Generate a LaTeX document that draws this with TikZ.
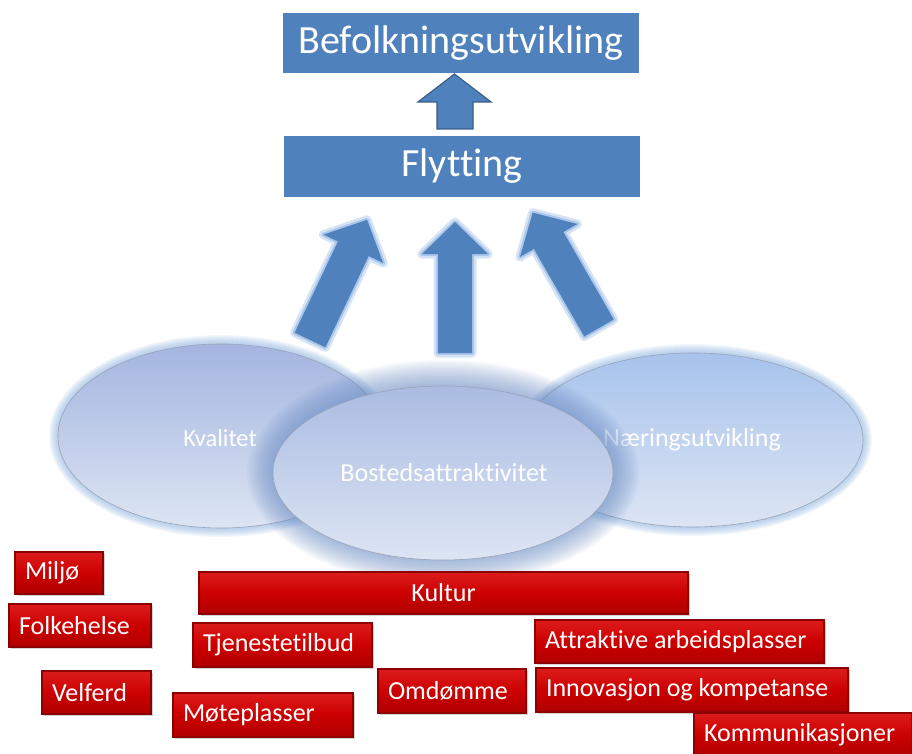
\documentclass[tikz,border=0pt]{standalone}
\usepackage{fontspec}
\setmainfont{Carlito}[Ligatures=NoCommon]
\usetikzlibrary{shapes.geometric,shadows}
\definecolor{boxblue}{HTML}{4F81BD}
\definecolor{arrowedge}{HTML}{385D8A}
\definecolor{glowblue}{HTML}{8DB4E3}
\definecolor{shadeblue}{HTML}{6A8CC6}
\definecolor{redtop}{HTML}{DC1C1C}
\definecolor{redmid}{HTML}{CC0000}
\definecolor{redbot}{HTML}{B00000}
\definecolor{rededge}{HTML}{8B0000}
\definecolor{elltop}{HTML}{A3B5E0}
\definecolor{ellbot}{HTML}{DDE5F3}
\definecolor{elltopb}{HTML}{A7C3EC}
\definecolor{elltopc}{HTML}{AABCE3}
\definecolor{ellline}{HTML}{9AA3B5}
\tikzset{
  bluebox/.style={rectangle, fill=boxblue, text=white, inner sep=0pt,
    font=\fontsize{40}{48}\selectfont},
  ellnode/.style={ellipse, draw=ellline, line width=0.6pt, top color=elltop,
    bottom color=ellbot},
  elltext/.style={text=white, inner sep=0pt, font=\fontsize{26}{31}\selectfont},
  redbox/.style={rectangle, draw=rededge, line width=1.2pt, top color=redtop,
    bottom color=redbot, middle color=redmid, text=white,
    font=\fontsize{26}{31}\selectfont, inner xsep=10pt, inner ysep=0pt, align=flush left,
    drop shadow={opacity=0.35, shadow xshift=1.5pt, shadow yshift=-1.5pt}},
  pics/bigarrow/.style={code={
    \path[draw=glowblue, line width=9pt, opacity=0.35, line join=round]
      (-17,0) -- (-17,{-#1+32}) -- (-33,{-#1+32}) -- (0,{-#1}) -- (33,{-#1+32}) -- (17,{-#1+32}) -- (17,0) -- cycle;
    \path[draw=glowblue, line width=4pt, opacity=0.6, line join=round]
      (-17,0) -- (-17,{-#1+32}) -- (-33,{-#1+32}) -- (0,{-#1}) -- (33,{-#1+32}) -- (17,{-#1+32}) -- (17,0) -- cycle;
    \path[fill=boxblue]
      (-17,0) -- (-17,{-#1+32}) -- (-33,{-#1+32}) -- (0,{-#1}) -- (33,{-#1+32}) -- (17,{-#1+32}) -- (17,0) -- cycle;
  }}
}
\begin{document}
\begin{tikzpicture}[x=1pt,y=-1pt]
\useasboundingbox[fill=white] (0,0) rectangle (912,754);

% top boxes
\node[bluebox, minimum width=356pt, minimum height=60pt] (befolk) at (461,43) {Befolkningsutvikling};
\node[bluebox, minimum width=356pt, minimum height=61pt] (flytt) at (462,166.5) {Flytting};

% small block arrow between the boxes
\draw[fill=boxblue, draw=arrowedge, line width=1.2pt, line join=miter]
  (437,129) -- (437,102) -- (418,102) -- (454.5,74) -- (491,102) -- (473,102) -- (473,129) -- cycle;

% big arrows
\pic[rotate=-25.4] at (310,340) {bigarrow=133};
\pic at (455,353) {bigarrow=131};
\pic[rotate=29.9] at (599,328) {bigarrow=133};

% Kvalitet
\foreach \i in {1,...,9}
  \fill[glowblue, opacity=0.09] (221,436) ellipse ({163+\i} and {92+\i});
\node[ellnode, minimum width=326pt, minimum height=184pt] (kval) at (221,436) {};
\node[elltext, font=\fontsize{24.5}{29}\selectfont] (kvaltxt) at (220,438) {Kvalitet};

% Naeringsutvikling
\foreach \i in {1,...,9}
  \fill[glowblue, opacity=0.09] (693,440) ellipse ({170+\i} and {87+\i});
\node[ellnode, top color=elltopb, minimum width=340pt, minimum height=174pt] (naer) at (693,440) {};
\node[elltext] (naertxt) at (692,440) {Næringsutvikling};

% Bostedsattraktivitet
\foreach \i in {2,4,...,26}
  \fill[shadeblue, opacity=0.06] (443,473) ellipse ({170+\i} and {87+\i});
\node[ellnode, top color=elltopc, minimum width=340pt, minimum height=174pt] (bosted) at (443,473) {};
\node[elltext] (bostxt) at (444,473) {Bostedsattraktivitet};

% red boxes
\node[redbox, text width=68pt, minimum height=42pt] (milj) at (59,573) {Miljø};
\node[redbox, text width=122pt, minimum height=43pt] (folk) at (80,625.5) {Folkehelse};
\node[redbox, text width=469pt, minimum height=42pt, align=center] (kult) at (443.5,593) {Kultur};
\node[redbox, text width=159pt, minimum height=44pt] (tjen) at (282.5,645) {Tjenestetilbud};
\node[redbox, text width=269pt, minimum height=43pt] (attr) at (679.5,641.5) {Attraktive arbeidsplasser};
\node[redbox, text width=89pt, minimum height=43pt] (velf) at (96.5,692.5) {Velferd};
\node[redbox, text width=128pt, minimum height=44pt] (omd) at (452,691) {Omdømme};
\node[redbox, text width=292pt, minimum height=44pt] (innov) at (692,690) {Innovasjon og kompetanse};
\node[redbox, text width=160pt, minimum height=44pt] (mote) at (263,715) {Møteplasser};
\node[redbox, text width=198pt, minimum height=43pt] (komm) at (803,734.5) {Kommunikasjoner};
\end{tikzpicture}
\end{document}
